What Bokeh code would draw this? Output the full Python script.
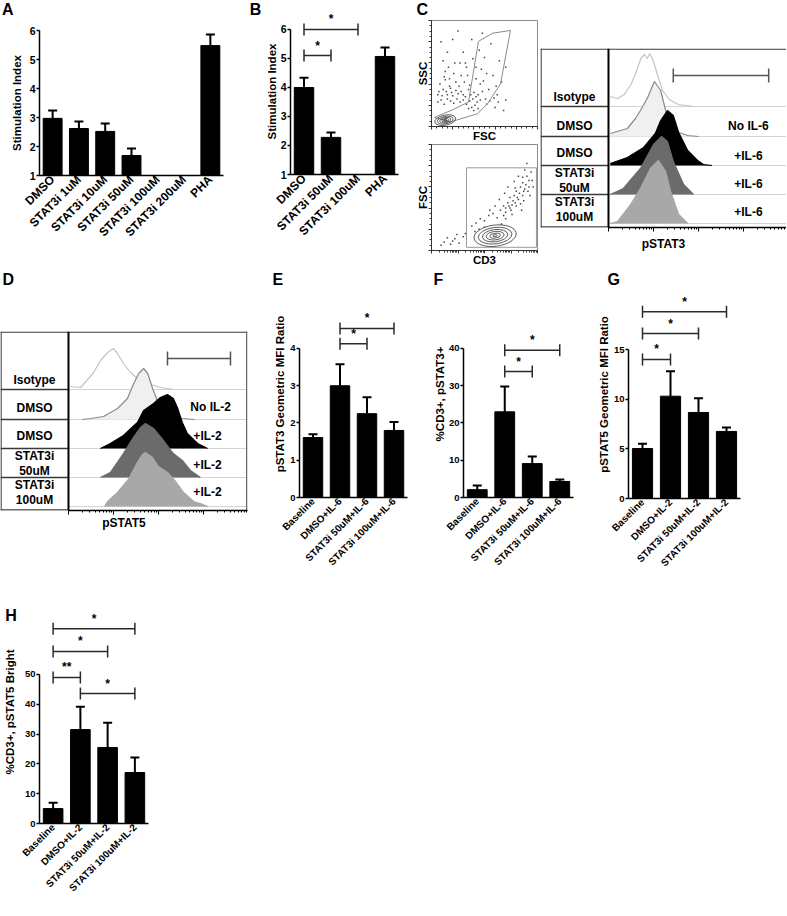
import math
from bokeh.plotting import figure
from bokeh.layouts import row, column
from bokeh.models import FactorRange, Range1d, FixedTicker, Label, CustomJSTickFormatter
from bokeh.embed import file_html
from bokeh.resources import INLINE
from bokeh.core.properties import value

FONT = "Liberation Sans"

# ---------------- data ----------------
A_CATS = ["DMSO", "STAT3i 1uM", "STAT3i 10uM", "STAT3i 50uM", "STAT3i 100uM", "STAT3i 200uM", "PHA"]
A_MEAN = [2.97, 2.62, 2.52, 1.69, 0.0, 0.0, 5.48]
A_ERR = [3.24, 2.86, 2.79, 1.93, 0.0, 0.0, 5.86]
A_YTICKS = [1, 2, 3, 4, 5, 6]

B_CATS = ["DMSO", "STAT3i 50uM", "STAT3i 100uM", "PHA"]
B_MEAN = [4.0, 2.28, 0.0, 5.07]
B_ERR = [4.34, 2.45, 0.0, 5.38]
B_SIG = [("DMSO", "STAT3i 100uM", 6.0, "*"), ("DMSO", "STAT3i 50uM", 5.1, "*")]

IL6_CATS = ["Baseline", "DMSO+IL-6", "STAT3i 50uM+IL-6", "STAT3i 100uM+IL-6"]
E_MEAN = [1.61, 3.0, 2.25, 1.8]
E_ERR = [1.7, 3.58, 2.69, 2.03]
E_YTICKS = [0, 1, 2, 3, 4]
E_SIG = [("DMSO+IL-6", "STAT3i 100uM+IL-6", 4.54, "*"), ("DMSO+IL-6", "STAT3i 50uM+IL-6", 4.13, "*")]

F_MEAN = [2.1, 23.0, 9.1, 4.3]
F_ERR = [3.2, 29.8, 11.0, 4.8]
F_YTICKS = [0, 10, 20, 30, 40]
F_SIG = [("DMSO+IL-6", "STAT3i 100uM+IL-6", 39.5, "*"), ("DMSO+IL-6", "STAT3i 50uM+IL-6", 33.8, "*")]

IL2_CATS = ["Baseline", "DMSO+IL-2", "STAT3i 50uM+IL-2", "STAT3i 100uM+IL-2"]
G_MEAN = [5.03, 10.3, 8.66, 6.75]
G_ERR = [5.5, 12.8, 10.1, 7.15]
G_YTICKS = [0, 5, 10, 15]
G_SIG = [("Baseline", "DMSO+IL-2", 14.0, "*"), ("Baseline", "STAT3i 50uM+IL-2", 16.6, "*"),
         ("Baseline", "STAT3i 100uM+IL-2", 18.8, "*")]

H_MEAN = [5.0, 31.5, 25.5, 17.1]
H_ERR = [7.0, 39.2, 33.8, 22.1]
H_YTICKS = [0, 10, 20, 30, 40, 50]
H_SIG = [("Baseline", "DMSO+IL-2", 49.0, "**"), ("Baseline", "STAT3i 50uM+IL-2", 57.7, "*"),
         ("Baseline", "STAT3i 100uM+IL-2", 65.3, "*"), ("DMSO+IL-2", "STAT3i 100uM+IL-2", 43.6, "*")]

# flow histograms: x in log decades, h = height above the row baseline
C_ISO_X = [0.04, 0.2, 0.35, 0.5, 0.62, 0.72, 0.8, 0.86, 0.92, 1.0, 1.1, 1.2, 1.35, 1.55, 1.9]
C_ISO_H = [10, 8, 12, 22, 35, 48, 52, 48, 53, 45, 30, 16, 7, 2, 0]
C_NO_X = [0.04, 0.42, 0.6, 0.71, 0.87, 1.02, 1.16, 1.27, 1.44, 1.76, 2.0]
C_NO_H = [3, 8, 18, 26, 39, 55, 46, 26, 6, 1, 0]
C_DM_X = [0.04, 0.42, 0.78, 1.04, 1.16, 1.31, 1.44, 1.56, 1.76, 1.98, 2.11, 2.3]
C_DM_H = [2, 8, 18, 32, 45, 55, 50, 33, 15, 5, 1, 0]
C_50_X = [0.04, 0.33, 0.71, 1.0, 1.18, 1.31, 1.44, 1.67, 1.89]
C_50_H = [0, 6, 26, 50, 58, 53, 33, 10, 0]
C_100_X = [0.04, 0.2, 0.49, 0.71, 0.93, 1.11, 1.27, 1.38, 1.56, 1.76]
C_100_H = [0, 2, 19, 35, 55, 63, 52, 32, 9, 0]

D_ISO_X = [0.04, 0.27, 0.56, 0.71, 0.87, 1.0, 1.09, 1.22, 1.38, 1.53, 1.76, 2.04, 2.33]
D_ISO_H = [3, 2, 17, 29, 37, 41, 36, 26, 17, 11, 6, 2, 0]
D_NO_X = [0.3, 0.49, 0.78, 1.09, 1.31, 1.44, 1.56, 1.67, 1.76, 1.87, 1.98, 2.11, 2.33, 2.53, 2.8]
D_NO_H = [0, 1, 3, 11, 21, 35, 46, 51, 46, 31, 18, 8, 3, 1, 0]
D_DM_X = [0.71, 0.93, 1.22, 1.53, 1.67, 1.89, 2.04, 2.2, 2.33, 2.42, 2.53, 2.64, 2.87, 3.09]
D_DM_H = [0, 5, 13, 26, 38, 45, 51, 54, 50, 41, 26, 15, 5, 0]
D_50_X = [0.71, 0.93, 1.22, 1.44, 1.6, 1.71, 1.89, 2.11, 2.33, 2.53, 2.71, 2.93]
D_50_H = [0, 5, 24, 40, 50, 54, 49, 37, 24, 17, 7, 0]
D_100_X = [0.8, 0.87, 1.09, 1.33, 1.53, 1.64, 1.71, 1.87, 2.0, 2.2, 2.38, 2.56, 2.78, 2.93, 3.1]
D_100_H = [0, 5, 14, 27, 44, 52, 54, 49, 40, 34, 25, 14, 5, 3, 0]

C_ROW_TEXT = ["Isotype", "DMSO", "DMSO", "STAT3i\n50uM", "STAT3i\n100uM"]
C_RIGHT_TEXT = ["No IL-6", "+IL-6", "+IL-6", "+IL-6"]
D_ROW_TEXT = ["Isotype", "DMSO", "DMSO", "STAT3i\n50uM", "STAT3i\n100uM"]
D_RIGHT_TEXT = ["No IL-2", "+IL-2", "+IL-2", "+IL-2"]

# flow dot plots (0-1000 scale)
SSC_DOT_X = [60, 90, 120, 150, 180, 210, 240, 270, 300, 330, 360, 390, 410, 430, 380, 350, 300, 250, 200, 150,
             100, 60, 420, 460, 400, 440, 80, 130, 170, 220, 260, 300, 340, 380, 420, 460, 500, 540, 580, 620,
             660, 700, 150, 200, 110, 250, 320, 480, 560, 640, 700, 520, 600, 680, 180, 90, 350, 450, 280, 520,
             70, 110, 140, 190, 230, 280, 320, 370, 400, 440, 480, 510, 550, 590, 630, 230, 170, 130, 310, 360,
             420, 470, 390, 330, 270, 210, 160, 120, 490, 610]
SSC_DOT_Y = [230, 250, 210, 260, 240, 220, 260, 230, 250, 210, 240, 260, 200, 230, 180, 170, 300, 310, 290, 300,
             290, 300, 280, 250, 150, 170, 400, 520, 450, 600, 380, 700, 480, 820, 560, 400, 650, 350, 480, 300,
             420, 250, 700, 820, 620, 900, 600, 880, 780, 620, 560, 210, 180, 150, 360, 800, 350, 720, 480, 500,
             330, 350, 330, 320, 340, 330, 280, 300, 320, 300, 330, 260, 240, 270, 230, 420, 380, 440, 420, 390,
             450, 540, 640, 560, 600, 500, 560, 470, 430, 380]
SSC_GATE_X = [28, 208, 349, 443, 575, 745, 651, 528, 434, 179]
SSC_GATE_Y = [85, 162, 231, 803, 880, 906, 402, 214, 120, 43]
SSC_CONT_W = [200, 150, 105, 65, 30]
SSC_CONT_H = [95, 70, 50, 30, 14]

CD3_DOT_X = [120, 180, 220, 260, 300, 150, 90, 320, 380, 420, 460, 500, 540, 580, 620, 650, 680, 700, 720, 740,
             760, 780, 800, 820, 840, 860, 880, 900, 920, 940, 860, 800, 760, 700, 660, 720, 780, 880, 960, 930,
             850, 600, 550, 640, 690, 820, 900, 500, 450, 410, 740, 770, 810, 830, 870, 890, 910, 950, 700, 750,
             790, 840, 870, 920, 680, 730, 790, 860, 200, 240]
CD3_DOT_Y = [80, 60, 110, 70, 130, 120, 50, 160, 230, 260, 300, 280, 330, 350, 310, 380, 420, 360, 450, 500,
             430, 520, 560, 480, 600, 640, 580, 700, 660, 740, 520, 420, 340, 300, 250, 600, 650, 760, 600, 520,
             380, 420, 380, 480, 540, 700, 820, 220, 200, 180, 400, 470, 500, 540, 560, 620, 560, 660, 400, 380,
             450, 440, 470, 600, 330, 420, 590, 690, 90, 150]
CD3_CONT_W = [400, 320, 240, 170, 100, 40]
CD3_CONT_H = [200, 155, 115, 80, 45, 18]

HIST_MAJOR = [0, 1, 2, 3, 4]
HIST_MINOR = [d + math.log10(k) for d in range(4) for k in range(2, 10)]


def tp(size, style="bold", color="black"):
    return dict(text_font=value(FONT), text_font_size=size, text_font_style=style, text_color=color)


def base_fig(xr, yr, geom, **kw):
    w, h, fl, fr, ft, fb = geom
    p = figure(x_range=xr, y_range=yr, width=w, height=h, min_border_left=fl, min_border_right=fr,
               min_border_top=ft, min_border_bottom=fb, toolbar_location=None, output_backend="svg", **kw)
    p.frame_align = False
    p.title.visible = False
    p.outline_line_color = None
    p.xgrid.visible = False
    p.ygrid.visible = False
    p.background_fill_color = "white"
    p.border_fill_color = "white"
    return p


def letter(p, x, y, t, side="above"):
    p.add_layout(Label(x=x, y=y, text=t, text_align="left", text_baseline="middle",
                       text_font=FONT, text_font_size="16px", text_font_style="bold", text_color="black"),
                 side)


def bar_panel(cats, mean, err, sig, yr, yticks, ylabel, geom, ylab_so, xfs="10px", yfs="9.5px"):
    p = base_fig(FactorRange(factors=cats), Range1d(*yr), geom)
    p.vbar(x=cats, top=mean, width=0.72, color="black")
    ex = [c for c, m in zip(cats, mean) if m > 0]
    em = [m for m in mean if m > 0]
    ee = [e for e, m in zip(err, mean) if m > 0]
    p.segment(x0=ex, y0=em, x1=ex, y1=ee, line_color="black", line_width=2)
    p.scatter(x=ex, y=ee, marker="dash", size=9, line_color="black", line_width=2)
    if sig:
        lx = [s[0] for s in sig]
        rx = [s[1] for s in sig]
        sy = [s[2] for s in sig]
        p.segment(x0=lx, y0=sy, x1=rx, y1=sy, line_color="#2a2a2a", line_width=1.5)
        p.scatter(x=lx + rx, y=sy + sy, marker="dash", angle=math.pi / 2, size=12,
                  line_color="#2a2a2a", line_width=1.5)
        mid = [(cats.index(s[0]) + cats.index(s[1])) / 2 + 0.5 for s in sig]
        p.text(x=mid, y=sy, text=[s[3] for s in sig], text_align="center", text_baseline="middle",
               y_offset=-10, **tp("12px"))
    ya = p.yaxis[0]
    ya.ticker = FixedTicker(ticks=yticks)
    ya.bounds = (yticks[0], yticks[-1])
    ya.axis_label = ylabel
    xa = p.xaxis[0]
    for ax in (xa, ya):
        ax.axis_line_width = 1.5
        ax.axis_line_color = "black"
        ax.major_tick_line_color = "black"
        ax.major_tick_line_width = 1.5
        ax.major_tick_in = 0
        ax.minor_tick_out = 0
        ax.minor_tick_in = 0
        ax.major_label_text_font = FONT
        ax.major_label_text_font_style = "bold"
        ax.major_label_text_color = "black"
    ya.major_tick_out = 3
    ya.major_label_standoff = 1
    ya.major_label_text_font_size = yfs
    ya.axis_label_text_font = FONT
    ya.axis_label_text_font_style = "bold"
    ya.axis_label_text_font_size = "11.5px"
    ya.axis_label_text_color = "black"
    ya.axis_label_standoff = ylab_so
    xa.major_tick_out = 0
    xa.major_label_standoff = 2
    xa.major_label_orientation = math.pi / 4
    xa.major_label_text_font_size = xfs
    return p


def hist_panel(geom, xr, xlabel, xlab_so, hists, row_texts, row_y, right_texts, right_x, right_y,
               gate, right_border):
    p = base_fig(Range1d(*xr), Range1d(0, 179), geom, y_axis_location=None)
    x0, x1 = xr
    bases = [121, 91, 62, 33, 4]
    p.segment(x0=[0] * 5, y0=bases, x1=[x1] * 5, y1=bases, line_color="#d4d4d4", line_width=1)
    styles = [(None, "#c4c4c4"), ("#f0f0f0", "#8a8a8a"), ("black", "black"), ("#6b6b6b", "#6b6b6b"),
              ("#a8a8a8", "#a8a8a8")]
    for (xs, hs), b, (fc, lc) in zip(hists, bases, styles):
        top = [b + v for v in hs]
        if fc:
            p.varea(x=xs, y1=[b] * len(xs), y2=top, fill_color=fc)
        p.line(x=xs, y=top, line_color=lc, line_width=1.2)
    rows = [33, 62, 91, 121]
    p.segment(x0=[x0] * 4, y0=rows, x1=[0] * 4, y1=rows, line_color="#3a3a3a", line_width=1.3)
    p.segment(x0=[x0], y0=[178.4], x1=[x1], y1=[178.4], line_color="#3a3a3a", line_width=1.3)
    p.segment(x0=[x0], y0=[0.5], x1=[0], y1=[0.5], line_color="#3a3a3a", line_width=1.3)
    p.segment(x0=[0], y0=[0], x1=[0], y1=[179], line_color="black", line_width=2)
    p.segment(x0=[x0 + 0.012], y0=[0], x1=[x0 + 0.012], y1=[179], line_color="#3a3a3a", line_width=1.3)
    if right_border is not None:
        p.segment(x0=[right_border], y0=[0], x1=[right_border], y1=[179], line_color="#555555",
                  line_width=1.3)
    p.text(x=[x0 / 2] * 5, y=row_y, text=row_texts, text_align="center", text_baseline="middle",
           text_line_height=1.05, **tp("12px"))
    p.text(x=right_x, y=right_y, text=right_texts, text_align="center", text_baseline="middle",
           **tp("12px"))
    g0, g1 = gate
    p.segment(x0=[g0], y0=[152], x1=[g1], y1=[152], line_color="#555555", line_width=1.5)
    p.scatter(x=[g0, g1], y=[152, 152], marker="dash", angle=math.pi / 2, size=14,
              line_color="#555555", line_width=1.5)
    xa = p.xaxis[0]
    xa.ticker = FixedTicker(ticks=HIST_MAJOR, minor_ticks=HIST_MINOR)
    xa.formatter = CustomJSTickFormatter(code="return ''")
    xa.bounds = (0, x1)
    xa.axis_line_width = 1.5
    xa.axis_line_color = "black"
    xa.major_tick_line_color = "black"
    xa.minor_tick_line_color = "black"
    xa.major_tick_out = 4
    xa.major_tick_in = 0
    xa.minor_tick_out = 2
    xa.minor_tick_in = 0
    xa.major_label_standoff = 0
    xa.axis_label = xlabel
    xa.axis_label_text_font = FONT
    xa.axis_label_text_font_style = "bold"
    xa.axis_label_text_font_size = "12px"
    xa.axis_label_text_color = "black"
    xa.axis_label_standoff = xlab_so
    return p


def flow_panel(geom, xlabel, ylabel, xt, xmt, yt, ymt, dx, dy):
    p = base_fig(Range1d(0, 1000), Range1d(0, 1000), geom)
    p.outline_line_color = "#8a8a8a"
    p.outline_line_width = 1
    p.scatter(x=dx, y=dy, marker="square", size=1.5, line_color=None, fill_color="#4a4a4a")
    for ax, lab, mj, mn in ((p.xaxis[0], xlabel, xt, xmt), (p.yaxis[0], ylabel, yt, ymt)):
        ax.ticker = FixedTicker(ticks=mj, minor_ticks=mn)
        ax.formatter = CustomJSTickFormatter(code="return ''")
        ax.axis_line_color = "#333333"
        ax.axis_line_width = 1
        ax.major_tick_out = 3
        ax.major_tick_in = 0
        ax.minor_tick_out = 2
        ax.minor_tick_in = 0
        ax.major_tick_line_color = "#333333"
        ax.minor_tick_line_color = "#333333"
        ax.major_label_standoff = 0
        ax.axis_label = lab
        ax.axis_label_text_font = FONT
        ax.axis_label_text_font_style = "bold"
        ax.axis_label_text_font_size = "11.5px"
        ax.axis_label_text_color = "black"
        ax.axis_label_standoff = 0
    return p


# ---------------- row 1 ----------------
pA = bar_panel(A_CATS, A_MEAN, A_ERR, None, (1, 6), A_YTICKS, "Stimulation Index",
               (262, 270, 39, 39, 30, 95), 4, xfs="12px", yfs="10.5px")
letter(pA, -1.423, 6.72, "A", "above")
letter(pA, 8.0, 6.72, "B", "right")
pB = bar_panel(B_CATS, B_MEAN, B_ERR, B_SIG, (1, 6.724), A_YTICKS, "Stimulation Index",
               (148, 270, 23, 12, 8, 96), 0, xfs="12px", yfs="10.5px")

lin_major = [0, 200, 400, 600, 800, 1000]
lin_minor = list(range(0, 1001, 50))
log_major = [0, 250, 500, 750, 1000]
log_minor = [250 * (d + math.log10(k)) for d in range(4) for k in range(2, 10)]

pC1 = flow_panel((130, 144, 21, 3, 20, 17), "FSC", "SSC", lin_major, lin_minor, lin_major, lin_minor,
                 SSC_DOT_X, SSC_DOT_Y)
pC1.patch(x=SSC_GATE_X, y=SSC_GATE_Y, fill_color=None, line_color="#8a8a8a", line_width=1)
pC1.ellipse(x=[130] * 5, y=[60] * 5, width=SSC_CONT_W, height=SSC_CONT_H, angle=0.2,
            fill_color=None, line_color="#333333", line_width=0.8)
letter(pC1, -141, 1103, "C", "above")
pC2 = flow_panel((130, 126, 21, 3, 0, 20), "CD3", "FSC", log_major, log_minor, lin_major, lin_minor,
                 CD3_DOT_X, CD3_DOT_Y)
pC2.quad(left=[330], right=[990], bottom=[30], top=[780], fill_color=None, line_color="#9a9a9a", line_width=1)
pC2.ellipse(x=[600] * 6, y=[140] * 6, width=CD3_CONT_W, height=CD3_CONT_H, angle=0.12,
            fill_color=None, line_color="#333333", line_width=0.8)

pCh = hist_panel((246, 270, 0, 0, 48, 43), (-1.511, 3.956), "pSTAT3", 5,
                 [(C_ISO_X, C_ISO_H), (C_NO_X, C_NO_H), (C_DM_X, C_DM_H), (C_50_X, C_50_H), (C_100_X, C_100_H)],
                 C_ROW_TEXT, [131, 102, 75, 47, 18], C_RIGHT_TEXT, [3.11] * 4, [102, 72, 44, 16],
                 (1.44, 3.56), None)

# ---------------- row 2 ----------------
pD = hist_panel((270, 310, 0, 23, 61, 70), (-1.511, 3.978), "pSTAT5", 1,
                [(D_ISO_X, D_ISO_H), (D_NO_X, D_NO_H), (D_DM_X, D_DM_H), (D_50_X, D_50_H), (D_100_X, D_100_H)],
                D_ROW_TEXT, [131, 103, 75, 47, 18], D_RIGHT_TEXT, [3.16, 3.09, 3.09, 3.09], [104, 75, 46, 19],
                (2.2, 3.6), 3.962)
letter(pD, -1.467, 231, "D", "above")
pE = bar_panel(IL6_CATS, E_MEAN, E_ERR, E_SIG, (0, 5.557), E_YTICKS, "pSTAT3 Geometric MFI Ratio",
               (160, 310, 29, 23, 20, 83), 1)
letter(pE, -1.0, 5.852, "E", "above")
pF = bar_panel(IL6_CATS, F_MEAN, F_ERR, F_SIG, (0, 55.57), F_YTICKS, "%CD3+, pSTAT3+",
               (162, 310, 29, 19, 20, 83), 0)
letter(pF, -1.088, 58.52, "F", "above")
pG = bar_panel(IL2_CATS, G_MEAN, G_ERR, G_SIG, (0, 20.94), G_YTICKS, "pSTAT5 Geometric MFI Ratio",
               (194, 310, 36, 46, 20, 82), 1)
letter(pG, -0.75, 22.05, "G", "above")

# ---------------- row 3 ----------------
pH = bar_panel(IL2_CATS, H_MEAN, H_ERR, H_SIG, (0, 74.8), H_YTICKS, "%CD3+, pSTAT5 Bright",
               (200, 334, 37, 52, 20, 91), 6)
letter(pH, -1.26, 69.8, "H", "above")

layout = column(
    row(pA, pB, column(pC1, pC2), pCh),
    row(pD, pE, pF, pG),
    row(pH),
)

open("out.html", "w").write(file_html(layout, INLINE))
